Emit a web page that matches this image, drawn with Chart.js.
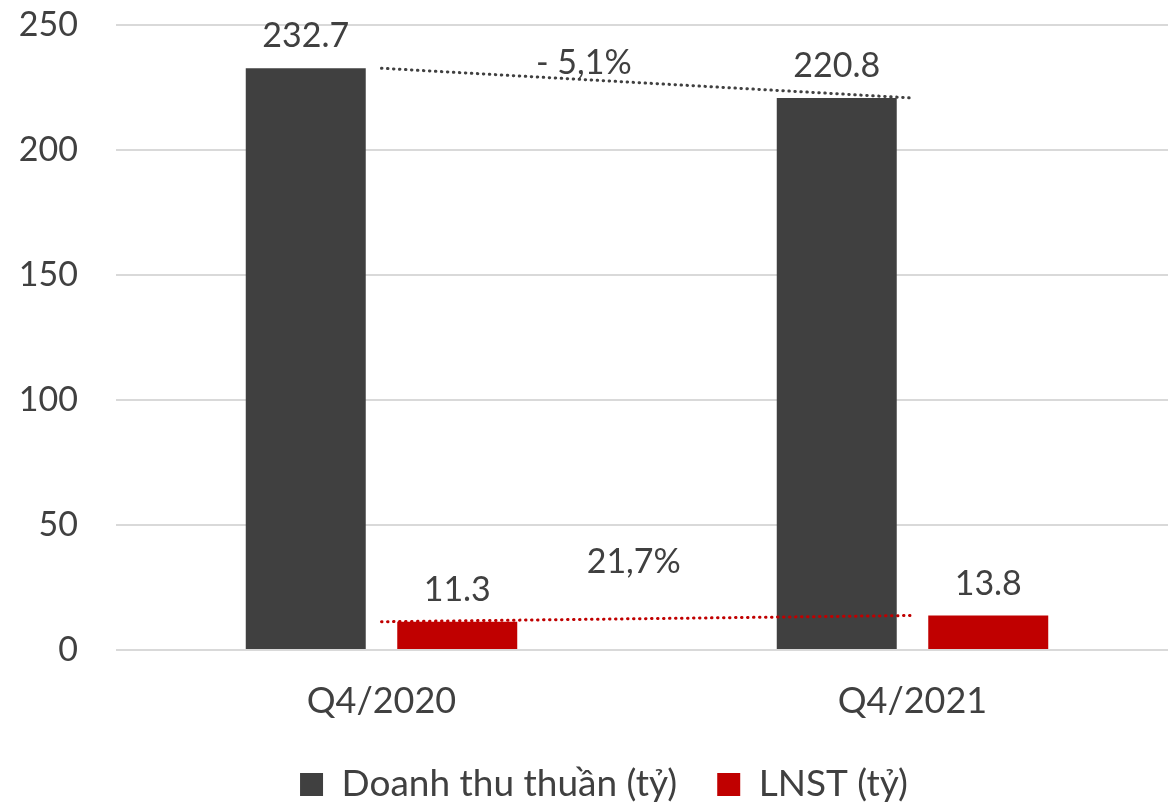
<!DOCTYPE html>
<html>
<head>
<meta charset="utf-8">
<script src="https://cdn.jsdelivr.net/npm/chart.js@4.4.1/dist/chart.umd.min.js"></script>
<style>
  html, body { margin: 0; padding: 0; background: #fff; overflow: hidden; }
  #wrap { width: 1168px; height: 806px; overflow: hidden; }
</style>
</head>
<body>
<div id="wrap"><canvas id="chart" width="1200" height="806"></canvas></div>
<script>
// Chart data
const quarters = ["Q4/2020", "Q4/2021"];
const revenue = [232.7, 220.8];   // Doanh thu thuần (tỷ)
const profit = [11.3, 13.8];      // LNST (tỷ)
const yTicks = [0, 50, 100, 150, 200, 250];
const changeLabels = ["- 5,1%", "21,7%"];

const textColor = "#404040";
const fontFamily = "Lato, 'Open Sans', sans-serif";

// value labels above bars + growth notes
const labelsPlugin = {
  id: "barLabels",
  afterLayout(chart) {
    // nudge the legend a little to the right, like the original
    chart.legend.left += 9;
    chart.legend.right += 9;
  },
  afterDatasetsDraw(chart) {
    const ctx = chart.ctx;
    ctx.save();
    ctx.font = "34px " + fontFamily;
    ctx.fillStyle = textColor;
    ctx.textAlign = "center";
    ctx.textBaseline = "alphabetic";
    chart.data.datasets.forEach((ds, i) => {
      if (ds.type === "line") return;
      chart.getDatasetMeta(i).data.forEach((bar, j) => {
        ctx.fillText(ds.data[j].toFixed(1), bar.x, bar.y - 21);
      });
    });
    // growth notes between the two quarters
    const x = chart.scales.x;
    const y = chart.scales.y;
    ctx.textBaseline = "middle";
    ctx.fillText(changeLabels[0], x.getPixelForValue(0.381), y.getPixelForValue(234.8));
    ctx.fillText(changeLabels[1], x.getPixelForValue(0.475), y.getPixelForValue(35.2));
    ctx.restore();
  },
};

const ctx = document.getElementById("chart").getContext("2d");
new Chart(ctx, {
  type: "bar",
  data: {
    labels: quarters,
    datasets: [
      {
        type: "line",
        label: "rev-trend",
        data: revenue,
        borderColor: "#404040",
        borderWidth: 3,
        borderDash: [0.5, 5.5],
        borderCapStyle: "round",
        pointRadius: 0,
        fill: false,
        order: 0,
      },
      {
        type: "line",
        label: "profit-trend",
        data: profit,
        borderColor: "#c00000",
        borderWidth: 3,
        borderDash: [0.5, 5.5],
        borderCapStyle: "round",
        pointRadius: 0,
        fill: false,
        order: 0,
      },
      {
        label: "Doanh thu thuần (tỷ)",
        data: revenue,
        backgroundColor: "#404040",
        categoryPercentage: 0.5706,
        barPercentage: 0.792,
        order: 1,
      },
      {
        label: "LNST (tỷ)",
        data: profit,
        backgroundColor: "#c00000",
        categoryPercentage: 0.5706,
        barPercentage: 0.792,
        order: 1,
      },
    ],
  },
  options: {
    responsive: false,
    animation: false,
    devicePixelRatio: 1,
    layout: {
      padding: { left: 12, right: 22, top: 3, bottom: 0 },
    },
    plugins: {
      tooltip: { enabled: false },
      legend: {
        position: "bottom",
        maxHeight: 80,
        labels: {
          filter: (item) => item.text.indexOf("trend") === -1,
          font: { family: fontFamily, size: 37 },
          color: textColor,
          boxWidth: 23,
          boxHeight: 23,
          padding: 40,
        },
      },
    },
    scales: {
      x: {
        grid: { display: false },
        border: { display: false },
        afterFit: (axis) => { axis.height = 76; },
        ticks: {
          color: textColor,
          font: { family: fontFamily, size: 36 },
          padding: 22,
        },
      },
      y: {
        min: 0,
        max: 250,
        afterBuildTicks: (axis) => {
          axis.ticks = yTicks.map((v) => ({ value: v }));
        },
        afterFit: (axis) => {
          axis.width = 104;
          axis.paddingTop = 25;
          axis.paddingBottom = 0;
        },
        grid: { color: "#d9d9d9", lineWidth: 2, drawTicks: false },
        border: { display: false },
        ticks: {
          color: textColor,
          font: { family: fontFamily, size: 34 },
          padding: 38,
        },
      },
    },
  },
  plugins: [labelsPlugin],
});
</script>
</body>
</html>
